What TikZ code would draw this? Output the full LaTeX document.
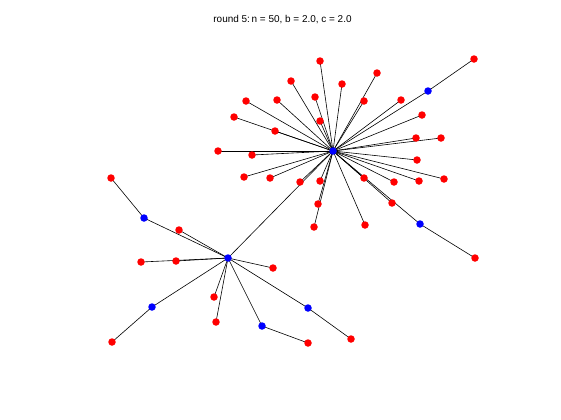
\documentclass[tikz,border=0pt]{standalone}
\usepackage{fontspec}
\setmainfont{Liberation Sans}
\usetikzlibrary{backgrounds}
\tikzset{
  rdot/.style={circle,fill=red,inner sep=0pt,minimum size=7.5bp},
  bdot/.style={circle,fill=blue,inner sep=0pt,minimum size=7.5bp},
  edge/.style={draw=black,line width=0.6bp},
}
\begin{document}
\begin{tikzpicture}[x=1bp,y=-1bp]
\useasboundingbox (0,0) rectangle (561,419);
\node[font=\fontsize{10}{12}\selectfont] (title) at (282.5,19.5) {round 5:\,n = 50, b = 2.0, c = 2.0};
% hub A cluster
\node[bdot] (n1) at (333,151) {};
\node[rdot] (n2) at (320,61) {};
\node[rdot] (n3) at (291,81) {};
\node[rdot] (n4) at (342,84) {};
\node[rdot] (n5) at (246,101) {};
\node[rdot] (n6) at (277,100) {};
\node[rdot] (n7) at (315,97) {};
\node[rdot] (n8) at (234,117) {};
\node[rdot] (n9) at (320,121) {};
\node[rdot] (n10) at (275,131) {};
\node[rdot] (n11) at (218,151) {};
\node[rdot] (n12) at (252,155) {};
\node[rdot] (n13) at (474,59) {};
\node[rdot] (n14) at (377,73) {};
\node[bdot] (n15) at (428,91) {};
\node[rdot] (n16) at (364,101) {};
\node[rdot] (n17) at (401,100) {};
\node[rdot] (n18) at (422,115) {};
\node[rdot] (n19) at (416,138) {};
\node[rdot] (n20) at (441,138) {};
\node[rdot] (n21) at (417,160) {};
\node[rdot] (n22) at (244,177) {};
\node[rdot] (n23) at (270,178) {};
\node[rdot] (n24) at (300,182) {};
\node[rdot] (n25) at (320,181) {};
\node[rdot] (n26) at (318,204) {};
\node[rdot] (n27) at (314,227) {};
\node[rdot] (n28) at (364,178) {};
\node[rdot] (n29) at (394,182) {};
\node[rdot] (n30) at (419,181) {};
\node[rdot] (n31) at (444,179) {};
\node[rdot] (n32) at (392,203) {};
\node[bdot] (n33) at (420,224) {};
\node[rdot] (n34) at (365,225) {};
\node[rdot] (n35) at (475,258) {};
% hub B cluster
\node[bdot] (n36) at (228,258) {};
\node[rdot] (n37) at (111,178) {};
\node[bdot] (n38) at (144,218) {};
\node[rdot] (n39) at (179,230) {};
\node[rdot] (n40) at (141,262) {};
\node[rdot] (n41) at (176,261) {};
\node[rdot] (n42) at (273,268) {};
\node[bdot] (n43) at (152,307) {};
\node[rdot] (n44) at (112,342) {};
\node[rdot] (n45) at (214,297) {};
\node[rdot] (n46) at (216,322) {};
\node[bdot] (n47) at (262,326) {};
\node[rdot] (n48) at (308,343) {};
\node[bdot] (n49) at (308,308) {};
\node[rdot] (n50) at (351,339) {};
\begin{pgfonlayer}{background}
\foreach \k in {2,3,4,5,6,7,8,9,10,11,12,14,15,16,17,18,19,20,21,22,23,24,25,26,27,28,29,30,31,32,33,34,36}
  \draw[edge] (n1.center) -- (n\k.center);
\draw[edge] (n15.center) -- (n13.center);
\draw[edge] (n33.center) -- (n35.center);
\foreach \k in {38,39,40,41,42,43,45,46,47,49}
  \draw[edge] (n36.center) -- (n\k.center);
\draw[edge] (n38.center) -- (n37.center);
\draw[edge] (n43.center) -- (n44.center);
\draw[edge] (n47.center) -- (n48.center);
\draw[edge] (n49.center) -- (n50.center);
\end{pgfonlayer}
\end{tikzpicture}
\end{document}
